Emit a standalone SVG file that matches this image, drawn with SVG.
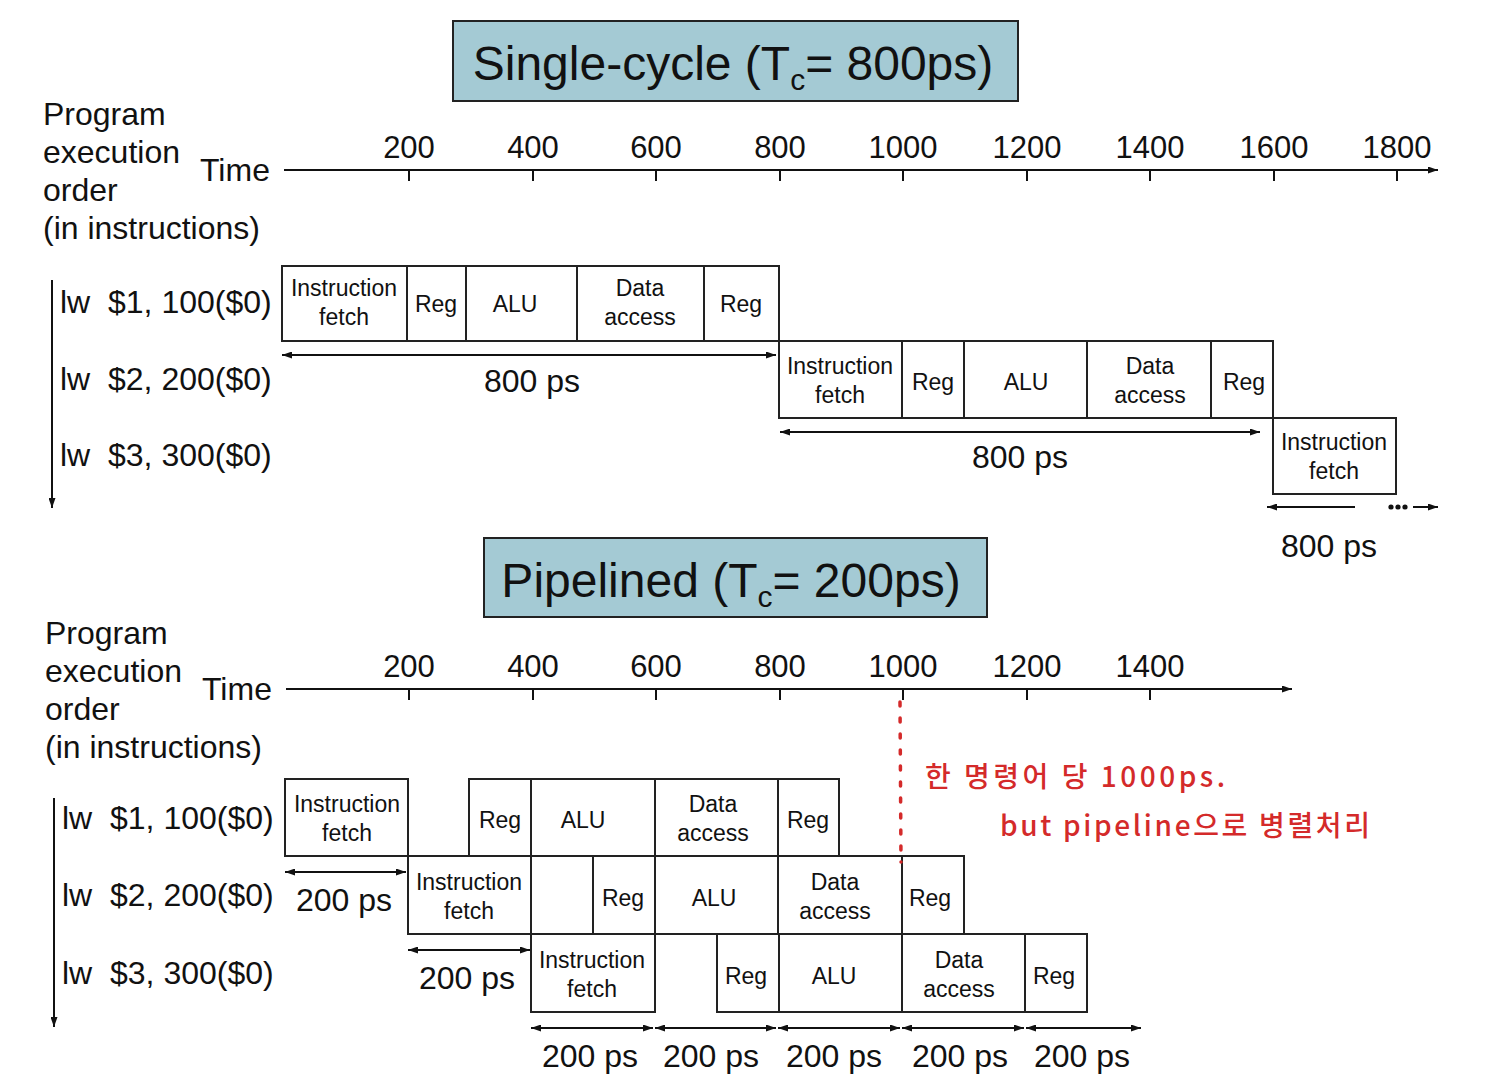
<svg xmlns="http://www.w3.org/2000/svg" width="1494" height="1084" viewBox="0 0 1494 1084">
<defs>
<marker id="ah" viewBox="0 0 10 7" refX="10" refY="3.5" markerWidth="10" markerHeight="7" markerUnits="userSpaceOnUse" orient="auto-start-reverse">
<path d="M0,0 L10,3.5 L0,7 z" fill="#111"/>
</marker>
<style>
text{font-family:"Liberation Sans",Arial,sans-serif;fill:#111}
.big{font-size:32px}
.ax{font-size:31px;text-anchor:middle}
.cell{font-size:23px;text-anchor:middle}
.ttl{font-size:48px;text-anchor:middle}
.box{fill:none;stroke:#222;stroke-width:2}
.div{stroke:#222;stroke-width:2}
.tbox{fill:#a4cad4;stroke:#222;stroke-width:2}
.arr{stroke:#111;stroke-width:2;fill:none;marker-start:url(#ah);marker-end:url(#ah)}
.one{stroke:#111;stroke-width:2;fill:none;marker-end:url(#ah)}
.axis{stroke:#111;stroke-width:2;fill:none}
.lbl{font-size:32px;text-anchor:middle}
.hand{font-family:"Noto Sans CJK KR","Noto Sans",sans-serif;fill:#d42a2a;font-size:28px;font-weight:500}
</style>
</defs>
<rect width="1494" height="1084" fill="#fff"/>

<!-- ===== Single-cycle ===== -->
<g id="title-single">
<rect class="tbox" x="453" y="21" width="565" height="80"/>
<text class="ttl" x="733" y="80">Single-cycle (T<tspan font-size="30" dy="10">c</tspan><tspan dy="-10">= 800ps)</tspan></text>
</g>

<g id="labels-single">
<text class="big" x="43" y="125">Program</text>
<text class="big" x="43" y="163">execution</text>
<text class="big" x="43" y="201">order</text>
<text class="big" x="43" y="239">(in instructions)</text>
<text class="big" x="200" y="181">Time</text>
<text class="big" x="60" y="313">lw</text><text class="big" x="108" y="313">$1, 100($0)</text>
<text class="big" x="60" y="390">lw</text><text class="big" x="108" y="390">$2, 200($0)</text>
<text class="big" x="60" y="466">lw</text><text class="big" x="108" y="466">$3, 300($0)</text>
</g>

<g id="axis-single-labels">
<text class="ax" x="409" y="158">200</text>
<text class="ax" x="533" y="158">400</text>
<text class="ax" x="656" y="158">600</text>
<text class="ax" x="780" y="158">800</text>
<text class="ax" x="903" y="158">1000</text>
<text class="ax" x="1027" y="158">1200</text>
<text class="ax" x="1150" y="158">1400</text>
<text class="ax" x="1274" y="158">1600</text>
<text class="ax" x="1397" y="158">1800</text>
</g>

<g id="s-row1">
<rect class="box" x="282" y="266" width="497" height="75"/>
<path class="div" d="M407,266V341M466,266V341M577,266V341M704,266V341"/>
<text class="cell" x="344" y="296">Instruction</text><text class="cell" x="344" y="325">fetch</text>
<text class="cell" x="436" y="312">Reg</text>
<text class="cell" x="515" y="312">ALU</text>
<text class="cell" x="640" y="296">Data</text><text class="cell" x="640" y="325">access</text>
<text class="cell" x="741" y="312">Reg</text>
</g>

<g id="s-row2">
<rect class="box" x="779" y="341" width="494" height="77"/>
<path class="div" d="M902,341V418M964,341V418M1087,341V418M1211,341V418"/>
<text class="cell" x="840" y="374">Instruction</text><text class="cell" x="840" y="403">fetch</text>
<text class="cell" x="933" y="390">Reg</text>
<text class="cell" x="1026" y="390">ALU</text>
<text class="cell" x="1150" y="374">Data</text><text class="cell" x="1150" y="403">access</text>
<text class="cell" x="1244" y="390">Reg</text>
</g>

<g id="s-row3">
<rect class="box" x="1273" y="418" width="123" height="76"/>
<text class="cell" x="1334" y="450">Instruction</text><text class="cell" x="1334" y="479">fetch</text>
</g>

<g id="s-durations">
<text class="lbl" x="532" y="392">800 ps</text>
<text class="lbl" x="1020" y="468">800 ps</text>
<text class="lbl" x="1329" y="557">800 ps</text>
</g>

<!-- ===== Pipelined ===== -->
<g id="title-pipe">
<rect class="tbox" x="484" y="538" width="503" height="79"/>
<text class="ttl" x="731" y="597">Pipelined (T<tspan font-size="30" dy="10">c</tspan><tspan dy="-10">= 200ps)</tspan></text>
</g>

<g id="labels-pipe">
<text class="big" x="45" y="644">Program</text>
<text class="big" x="45" y="682">execution</text>
<text class="big" x="45" y="720">order</text>
<text class="big" x="45" y="758">(in instructions)</text>
<text class="big" x="202" y="700">Time</text>
<text class="big" x="62" y="829">lw</text><text class="big" x="110" y="829">$1, 100($0)</text>
<text class="big" x="62" y="906">lw</text><text class="big" x="110" y="906">$2, 200($0)</text>
<text class="big" x="62" y="984">lw</text><text class="big" x="110" y="984">$3, 300($0)</text>
</g>

<g id="axis-pipe-labels">
<text class="ax" x="409" y="677">200</text>
<text class="ax" x="533" y="677">400</text>
<text class="ax" x="656" y="677">600</text>
<text class="ax" x="780" y="677">800</text>
<text class="ax" x="903" y="677">1000</text>
<text class="ax" x="1027" y="677">1200</text>
<text class="ax" x="1150" y="677">1400</text>
</g>

<g id="p-row1">
<rect class="box" x="285" y="779" width="123" height="77"/>
<rect class="box" x="469" y="779" width="370" height="77"/>
<path class="div" d="M531,779V856M655,779V856M778,779V856"/>
<text class="cell" x="347" y="812">Instruction</text><text class="cell" x="347" y="841">fetch</text>
<text class="cell" x="500" y="828">Reg</text>
<text class="cell" x="583" y="828">ALU</text>
<text class="cell" x="713" y="812">Data</text><text class="cell" x="713" y="841">access</text>
<text class="cell" x="808" y="828">Reg</text>
</g>

<g id="p-row2">
<rect class="box" x="408" y="856" width="123" height="78"/>
<rect class="box" x="593" y="856" width="371" height="78"/>
<path class="div" d="M655,856V934M778,856V934M902,856V934"/>
<text class="cell" x="469" y="890">Instruction</text><text class="cell" x="469" y="919">fetch</text>
<text class="cell" x="623" y="906">Reg</text>
<text class="cell" x="714" y="906">ALU</text>
<text class="cell" x="835" y="890">Data</text><text class="cell" x="835" y="919">access</text>
<text class="cell" x="930" y="906">Reg</text>
</g>

<g id="p-row3">
<rect class="box" x="531" y="934" width="124" height="78"/>
<rect class="box" x="717" y="934" width="370" height="78"/>
<path class="div" d="M779,934V1012M902,934V1012M1025,934V1012"/>
<text class="cell" x="592" y="968">Instruction</text><text class="cell" x="592" y="997">fetch</text>
<text class="cell" x="746" y="984">Reg</text>
<text class="cell" x="834" y="984">ALU</text>
<text class="cell" x="959" y="968">Data</text><text class="cell" x="959" y="997">access</text>
<text class="cell" x="1054" y="984">Reg</text>
</g>

<g id="p-durations">
<text class="lbl" x="344" y="911">200 ps</text>
<text class="lbl" x="467" y="989">200 ps</text>
<text class="lbl" x="590" y="1067">200 ps</text>
<text class="lbl" x="711" y="1067">200 ps</text>
<text class="lbl" x="834" y="1067">200 ps</text>
<text class="lbl" x="960" y="1067">200 ps</text>
<text class="lbl" x="1082" y="1067">200 ps</text>
</g>

<g id="annotation">
<line x1="900" y1="702" x2="901" y2="862" stroke="#d42a2a" stroke-width="3.5" stroke-dasharray="4 12" stroke-linecap="round"/>
<text class="hand" x="925" y="787" textLength="300" lengthAdjust="spacing">한 명령어 당 1000ps.</text>
<text class="hand" x="1000" y="836" textLength="370" lengthAdjust="spacing">but pipeline으로 병렬처리</text>
</g>

<!-- ===== Connectors ===== -->
<g id="connectors">
<line class="one" x1="284" y1="170" x2="1438" y2="170"/>
<path class="axis" d="M409,170V181M533,170V181M656,170V181M780,170V181M903,170V181M1027,170V181M1150,170V181M1274,170V181M1397,170V181"/>
<line class="one" x1="52" y1="280" x2="52" y2="508"/>
<line class="arr" x1="282" y1="355" x2="776" y2="355"/>
<line class="arr" x1="780" y1="432" x2="1260" y2="432"/>
<line class="one" x1="1355" y1="507" x2="1267" y2="507"/>
<circle cx="1391" cy="507" r="2.6" fill="#111"/>
<circle cx="1398" cy="507" r="2.6" fill="#111"/>
<circle cx="1405" cy="507" r="2.6" fill="#111"/>
<line class="one" x1="1413" y1="507" x2="1438" y2="507"/>

<line class="one" x1="286" y1="689" x2="1292" y2="689"/>
<path class="axis" d="M409,689V700M533,689V700M656,689V700M780,689V700M903,689V700M1027,689V700M1150,689V700"/>
<line class="one" x1="54" y1="798" x2="54" y2="1027"/>
<line class="arr" x1="285" y1="872" x2="406" y2="872"/>
<line class="arr" x1="408" y1="950" x2="530" y2="950"/>
<line class="arr" x1="531" y1="1028" x2="653" y2="1028"/>
<line class="arr" x1="655" y1="1028" x2="776" y2="1028"/>
<line class="arr" x1="778" y1="1028" x2="900" y2="1028"/>
<line class="arr" x1="902" y1="1028" x2="1024" y2="1028"/>
<line class="arr" x1="1026" y1="1028" x2="1141" y2="1028"/>
</g>
</svg>
